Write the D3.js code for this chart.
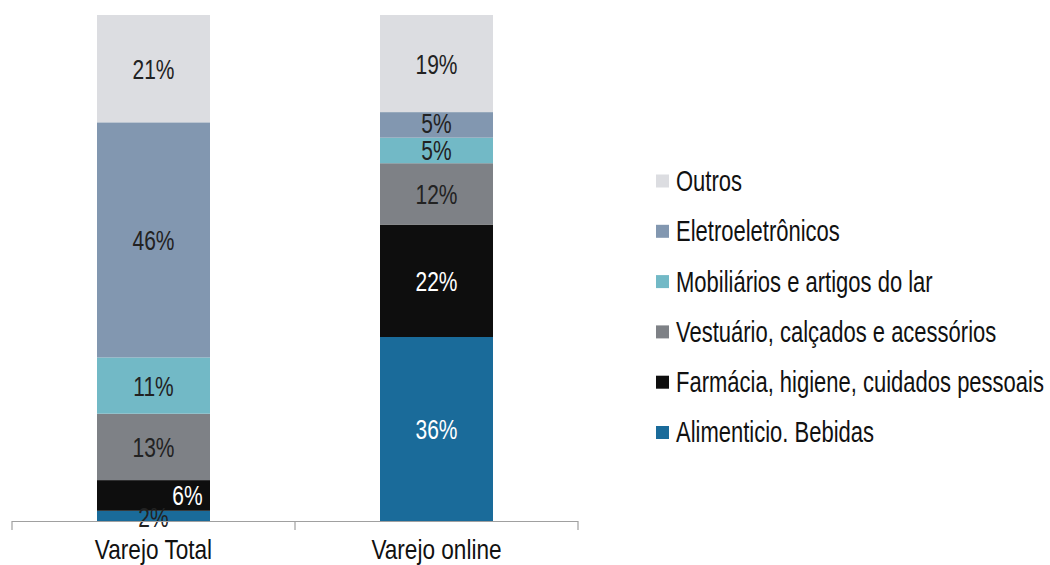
<!DOCTYPE html>
<html lang="pt">
<head>
<meta charset="UTF-8">
<title>Varejo</title>
<script src="https://d3js.org/d3.v7.min.js"></script>
<style>
  body { margin: 0; background: #fff; }
  svg { display: block; font-family: "Liberation Sans", Arial, sans-serif; }
</style>
</head>
<body>
<svg width="1050" height="565"></svg>
<script>
// categories on the x axis
let groups = ["Varejo Total", "Varejo online"];
// stack order bottom -> top
let segments = ["Alimenticio. Bebidas", "Farmácia, higiene, cuidados pessoais",
  "Vestuário, calçados e acessórios", "Mobiliários e artigos do lar",
  "Eletroeletrônicos", "Outros"];
let varejoTotal = [2, 6, 13, 11, 46, 21];
let varejoOnline = [36, 22, 12, 5, 5, 19];
let colors = ["#1a6b9a", "#0e0e0e", "#7e8186", "#72b9c6", "#8297b0", "#dcdde1"];
let labelColors = ["#fff", "#fff", "#222", "#222", "#222", "#222"];

let table = groups.map((g, i) => {
  let row = {group: g};
  let vals = i == 0 ? varejoTotal : varejoOnline;
  segments.forEach((s, j) => row[s] = vals[j]);
  return row;
});

let svg = d3.select("svg");
let x = d3.scaleBand().domain(groups).range([12, 578]).paddingInner(0).paddingOuter(0);
let y = d3.scaleLinear().domain([0, 1]).range([521, 15]);
let barW = 113;
let stretch = 1.32; // original text is drawn tall and narrow

// text placed at (px,py) and stretched vertically
function tallText(parent, px, py, str, size, anchor, fill, dy, sy) {
  let g = parent.append("g").attr("transform", `translate(${px},${py}) scale(1,${sy || stretch})`);
  return g.append("text")
    .attr("dy", dy)
    .attr("text-anchor", anchor)
    .attr("fill", fill)
    .style("font-size", size + "px")
    .text(str);
}

let stack = d3.stack().keys(segments).offset(d3.stackOffsetExpand);
let series = stack(table);

let layers = svg.selectAll("g.layer").data(series).enter().append("g")
  .attr("class", "layer")
  .attr("fill", (d, i) => colors[i]);

layers.selectAll("rect").data(d => d).enter().append("rect")
  .attr("x", d => x(d.data.group) + x.bandwidth() / 2 - barW / 2)
  .attr("width", barW)
  .attr("y", d => y(d[1]))
  .attr("height", d => y(d[0]) - y(d[1]));

// small segments get nudged like the original
function nudge(si, gi) {
  if (gi == 0 && si == 1) return [34, 0];
  if (gi == 0 && si == 0) return [0, 1];
  if (gi == 1 && si == 4) return [0, -2];
  return [0, 0];
}

series.forEach((s, si) => {
  s.forEach((d, gi) => {
    let v = gi == 0 ? varejoTotal[si] : varejoOnline[si];
    let n = nudge(si, gi);
    tallText(svg, x(d.data.group) + x.bandwidth() / 2 + n[0], (y(d[0]) + y(d[1])) / 2 + n[1],
      v + "%", 21, "middle", (gi == 0 && si == 0) ? "#222" : labelColors[si], "0.36em");
  });
});

// axis with ticks between categories
let axis = svg.append("g").attr("stroke", "#a0a0a0").attr("stroke-width", 1.2);
axis.append("line").attr("x1", 12).attr("x2", 578).attr("y1", 521.5).attr("y2", 521.5);
[12, x(groups[1]), 578].forEach(t => {
  axis.append("line").attr("x1", t).attr("x2", t).attr("y1", 521).attr("y2", 530);
});
// category names sit low, kept just inside the bottom edge
groups.forEach(g => {
  tallText(svg, x(g) + x.bandwidth() / 2, 559, g, 22.6, "middle", "#111", 0, 1.25);
});

// legend, top item is last segment
let legend = svg.append("g").attr("transform", "translate(656,0)");
let items = segments.slice().reverse();
items.forEach((s, i) => {
  let cy = 180.5 + i * 50.3;
  legend.append("rect").attr("x", 0).attr("y", cy - 6).attr("width", 13).attr("height", 13)
    .attr("fill", colors[segments.length - 1 - i]);
  tallText(legend, 20, cy, s, 22, "start", "#111", "0.36em");
});
</script>
</body>
</html>
